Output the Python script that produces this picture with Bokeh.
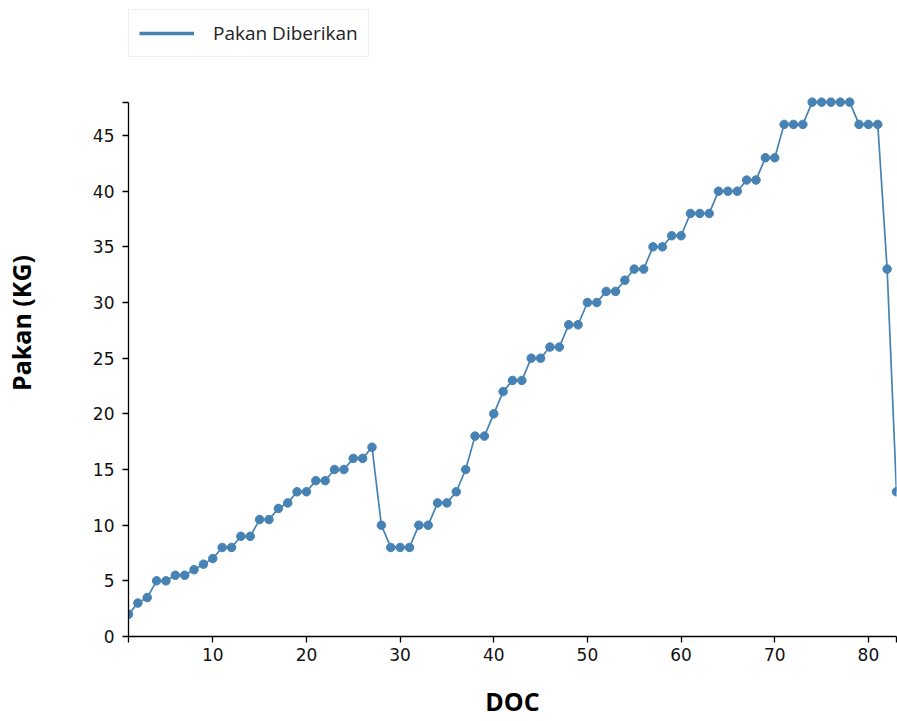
from bokeh.plotting import figure
from bokeh.models import Range1d, Legend, LegendItem
from bokeh.embed import file_html
from bokeh.resources import INLINE

# DOC (day of culture) vs feed given
doc = list(range(1, 84))
pakan = [2, 3, 3.5, 5, 5, 5.5, 5.5, 6, 6.5, 7,
         8, 8, 9, 9, 10.5, 10.5, 11.5, 12, 13, 13,
         14, 14, 15, 15, 16, 16, 17, 10, 8, 8,
         8, 10, 10, 12, 12, 13, 15, 18, 18, 20,
         22, 23, 23, 25, 25, 26, 26, 28, 28, 30,
         30, 31, 31, 32, 33, 33, 35, 35, 36, 36,
         38, 38, 38, 40, 40, 40, 41, 41, 43, 43,
         46, 46, 46, 48, 48, 48, 48, 48, 46, 46,
         46, 33, 13]
x_ticks = [1, 10, 20, 30, 40, 50, 60, 70, 80, 83]
y_ticks = [0, 5, 10, 15, 20, 25, 30, 35, 40, 45, 48]

COLOR = "#4682b4"

# extra headroom above 48 holds the legend; the axis line stops at 48
p = figure(width=897, height=721,
           x_range=Range1d(1, 83), y_range=Range1d(0, 56.32),
           output_backend="svg", toolbar_location=None,
           min_border_left=127, min_border_top=9,
           min_border_right=1, min_border_bottom=85)

p.grid.grid_line_color = None
p.outline_line_color = None

p.line(doc, pakan, line_color=COLOR, line_width=1.7)
p.scatter(doc, pakan, size=8.5, fill_color=COLOR, line_color=COLOR)
# hidden thicker copy, only used for the legend key
key = p.line(doc, pakan, line_color=COLOR, line_width=3.5, visible=False)

for ax in (p.xaxis, p.yaxis):
    ax.axis_line_color = "black"
    ax.axis_line_width = 1.3
    ax.major_tick_line_color = "black"
    ax.major_tick_line_width = 1.3
    ax.major_tick_in = 0
    ax.major_tick_out = 6
    ax.minor_tick_line_color = None
    ax.major_label_text_font = "DejaVu Sans"
    ax.major_label_text_font_size = "17px"
    ax.major_label_text_color = "#111111"
    ax.axis_label_text_font = "Open Sans"
    ax.axis_label_text_font_style = "bold"
    ax.axis_label_text_font_size = "25px"
    ax.axis_label_text_color = "black"

p.xaxis.ticker = x_ticks
p.yaxis.ticker = y_ticks
p.yaxis.bounds = (0, 48)
p.xaxis.major_label_overrides = {1: "", 83: ""}
p.yaxis.major_label_overrides = {48: ""}
p.xaxis.axis_label = "DOC"
p.yaxis.axis_label = "Pakan (KG)"
p.xaxis.major_label_standoff = 5
p.yaxis.major_label_standoff = 8
p.xaxis.axis_label_standoff = 20
p.yaxis.axis_label_standoff = 52

legend = Legend(items=[LegendItem(label="Pakan Diberikan", renderers=[key])],
                location="top_left")
legend.label_text_font = "Open Sans"
legend.label_text_font_size = "19px"
legend.label_text_color = "#222222"
legend.glyph_width = 55
legend.glyph_height = 20
legend.label_standoff = 19
legend.padding = 10
legend.margin = 0
legend.spacing = 0
legend.border_line_color = "#dddddd"
legend.border_line_width = 1
legend.background_fill_alpha = 1
legend.inactive_fill_alpha = 0
p.add_layout(legend, "center")

open("out.html", "w").write(file_html(p, INLINE))
